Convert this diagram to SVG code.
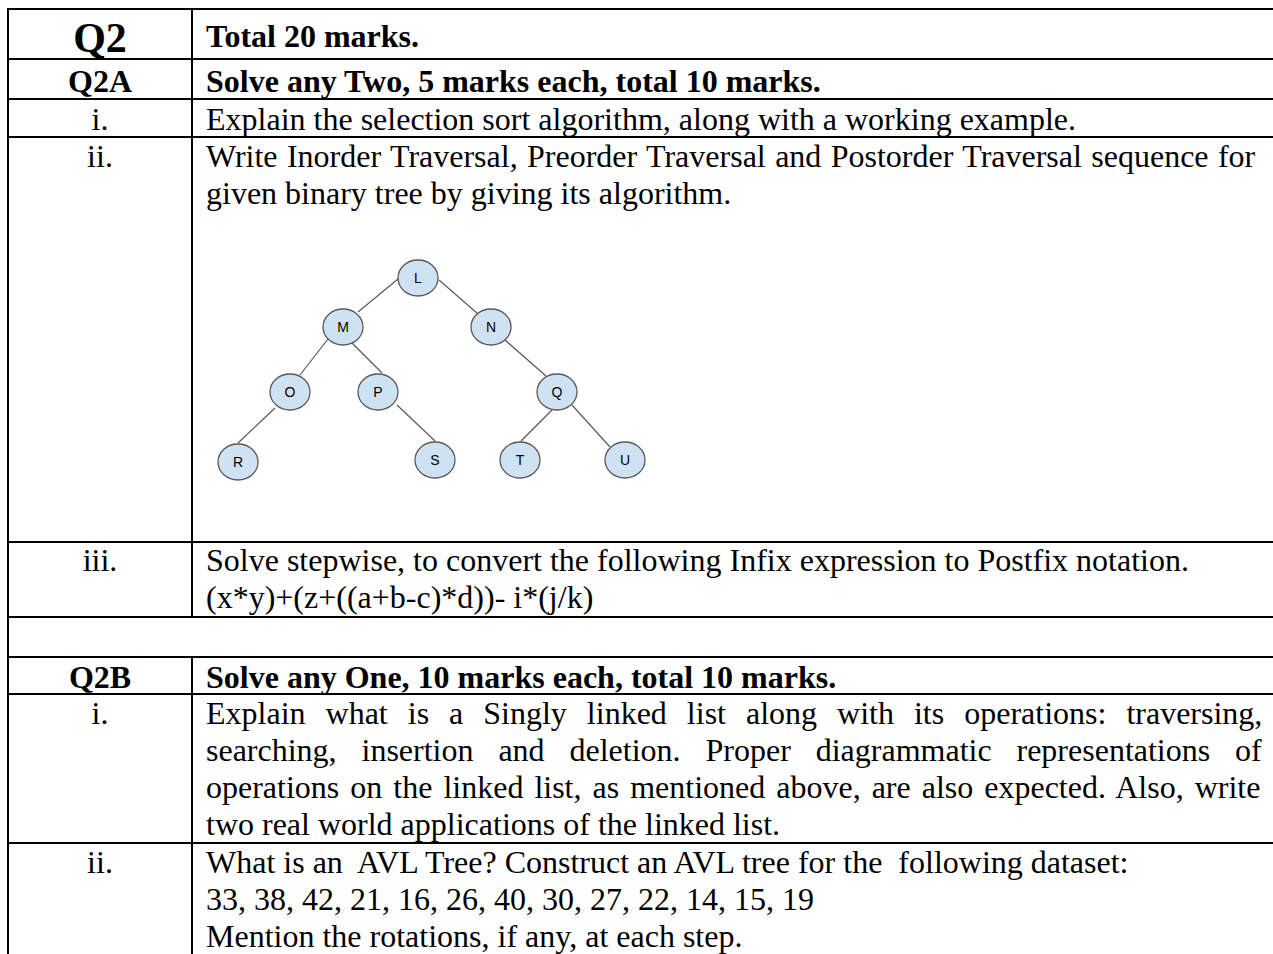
<svg xmlns="http://www.w3.org/2000/svg" width="1273" height="954" viewBox="0 0 1273 954">
  <style>
    .grid { stroke: #000; stroke-width: 2; fill: none; }
    .txt { font-family: "Liberation Serif", "Times New Roman", serif; font-size: 32px; fill: #000; }
    .b { font-weight: bold; }
    .c { text-anchor: middle; }
    .edge { stroke: #595959; stroke-width: 1.2; fill: none; }
    .node ellipse { fill: #cfe2f3; stroke: #595959; stroke-width: 1.3; }
    .node text { font-family: "Liberation Sans", Arial, sans-serif; font-size: 14px; fill: #000; text-anchor: middle; }
  </style>
  <rect width="1273" height="954" fill="#fff"/>

  <!-- table rules -->
  <g id="table">
    <line class="grid" x1="8" y1="9" x2="1273" y2="9"/>
    <line class="grid" x1="8" y1="59" x2="1273" y2="59"/>
    <line class="grid" x1="8" y1="99" x2="1273" y2="99"/>
    <line class="grid" x1="8" y1="137" x2="1273" y2="137"/>
    <line class="grid" x1="8" y1="542" x2="1273" y2="542"/>
    <line class="grid" x1="8" y1="617" x2="1273" y2="617"/>
    <line class="grid" x1="8" y1="657" x2="1273" y2="657"/>
    <line class="grid" x1="8" y1="694" x2="1273" y2="694"/>
    <line class="grid" x1="8" y1="843" x2="1273" y2="843"/>
    <line class="grid" x1="8" y1="8" x2="8" y2="954"/>
    <line class="grid" x1="192" y1="8" x2="192" y2="617"/>
    <line class="grid" x1="192" y1="657" x2="192" y2="954"/>
  </g>

  <!-- cell texts -->
  <g id="texts" class="txt">
    <text class="b c" x="100" y="52" font-size="42">Q2</text>
    <text class="b" x="206" y="47">Total 20 marks.</text>

    <text class="b c" x="100" y="92">Q2A</text>
    <text class="b" x="206" y="92">Solve any Two, 5 marks each, total 10 marks.</text>

    <text class="c" x="100" y="130">i.</text>
    <text x="206" y="130">Explain the selection sort algorithm, along with a working example.</text>

    <text class="c" x="100" y="167">ii.</text>
    <text x="206" y="167" word-spacing="1.4">Write Inorder Traversal, Preorder Traversal and Postorder Traversal sequence for</text>
    <text x="206" y="204">given binary tree by giving its algorithm.</text>

    <text class="c" x="100" y="571">iii.</text>
    <text x="206" y="571">Solve stepwise, to convert the following Infix expression to Postfix notation.</text>
    <text x="206" y="608">(x*y)+(z+((a+b-c)*d))- i*(j/k)</text>

    <text class="b c" x="100" y="688">Q2B</text>
    <text class="b" x="206" y="688">Solve any One, 10 marks each, total 10 marks.</text>

    <text class="c" x="100" y="724">i.</text>
    <text x="206" y="724" word-spacing="12">Explain what is a Singly linked list along with its operations: traversing,</text>
    <text x="206" y="761" word-spacing="16.9">searching, insertion and deletion. Proper diagrammatic representations of</text>
    <text x="206" y="798" word-spacing="3">operations on the linked list, as mentioned above, are also expected. Also, write</text>
    <text x="206" y="835">two real world applications of the linked list.</text>

    <text class="c" x="100" y="873">ii.</text>
    <text x="206" y="873" xml:space="preserve">What is an  AVL Tree? Construct an AVL tree for the  following dataset:</text>
    <text x="206" y="910">33, 38, 42, 21, 16, 26, 40, 30, 27, 22, 14, 15, 19</text>
    <text x="206" y="947">Mention the rotations, if any, at each step.</text>
  </g>

  <!-- binary tree connectors -->
  <g id="connectors">
    <line class="edge" x1="398" y1="279" x2="358" y2="312"/>
    <line class="edge" x1="439" y1="280" x2="478" y2="314"/>
    <line class="edge" x1="328" y1="339" x2="300" y2="375"/>
    <line class="edge" x1="352" y1="343" x2="382" y2="373"/>
    <line class="edge" x1="275" y1="408" x2="238" y2="443"/>
    <line class="edge" x1="397" y1="405" x2="435" y2="441"/>
    <line class="edge" x1="505" y1="340" x2="546" y2="376"/>
    <line class="edge" x1="552" y1="410" x2="521" y2="441"/>
    <line class="edge" x1="572" y1="405" x2="610" y2="447"/>
  </g>

  <!-- binary tree nodes -->
  <g id="node-L" class="node"><ellipse cx="418" cy="278" rx="20" ry="18"/><text x="418" y="283">L</text></g>
  <g id="node-M" class="node"><ellipse cx="343" cy="327" rx="20" ry="18"/><text x="343" y="332">M</text></g>
  <g id="node-N" class="node"><ellipse cx="491" cy="327" rx="20" ry="18"/><text x="491" y="332">N</text></g>
  <g id="node-O" class="node"><ellipse cx="290" cy="392" rx="20" ry="18"/><text x="290" y="397">O</text></g>
  <g id="node-P" class="node"><ellipse cx="378" cy="392" rx="20" ry="18"/><text x="378" y="397">P</text></g>
  <g id="node-Q" class="node"><ellipse cx="557" cy="392" rx="20" ry="18"/><text x="557" y="397">Q</text></g>
  <g id="node-R" class="node"><ellipse cx="238" cy="462" rx="20" ry="18"/><text x="238" y="467">R</text></g>
  <g id="node-S" class="node"><ellipse cx="435" cy="460" rx="20" ry="18"/><text x="435" y="465">S</text></g>
  <g id="node-T" class="node"><ellipse cx="520" cy="460" rx="20" ry="18"/><text x="520" y="465">T</text></g>
  <g id="node-U" class="node"><ellipse cx="625" cy="460" rx="20" ry="18"/><text x="625" y="465">U</text></g>
</svg>
